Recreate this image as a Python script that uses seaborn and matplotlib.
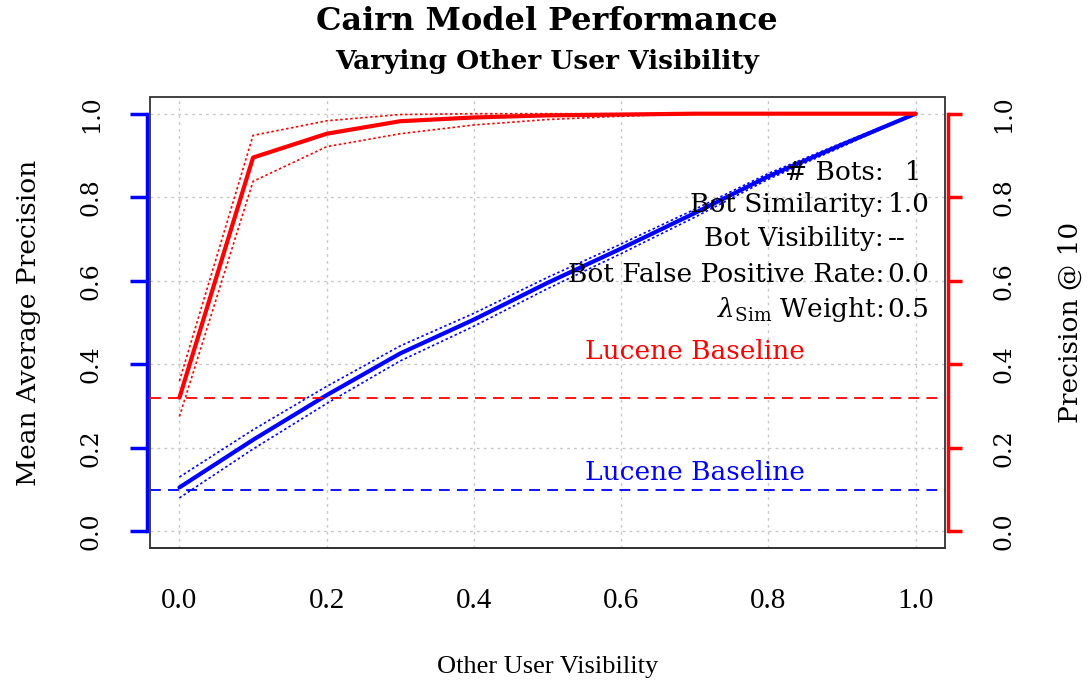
import matplotlib
matplotlib.use("Agg")
import matplotlib.pyplot as plt
import seaborn as sns
import pandas as pd
from matplotlib.patches import Rectangle

# other user visibility
vis = [0.0, 0.1, 0.2, 0.3, 0.4, 0.5, 0.6, 0.7, 0.8, 0.9, 1.0]

# mean average precision (left axis, blue)
map_mean = [0.105, 0.219, 0.326, 0.426, 0.507, 0.595, 0.677, 0.762, 0.850, 0.926, 1.0]
map_hi = [0.130, 0.243, 0.347, 0.444, 0.522, 0.608, 0.688, 0.771, 0.857, 0.930, 1.0]
map_lo = [0.080, 0.197, 0.306, 0.408, 0.491, 0.581, 0.665, 0.752, 0.843, 0.921, 1.0]

# precision @ 10 (right axis, red)
p10_mean = [0.320, 0.895, 0.952, 0.982, 0.991, 0.996, 0.998, 1.0, 1.0, 1.0, 1.0]
p10_hi = [0.360, 0.948, 0.983, 0.998, 1.0, 1.0, 1.0, 1.0, 1.0, 1.0, 1.0]
p10_lo = [0.275, 0.838, 0.921, 0.952, 0.973, 0.986, 0.994, 1.0, 1.0, 1.0, 1.0]

lucene_map = 0.10
lucene_p10 = 0.32

params = [("# Bots:", "  1"),
          ("Bot Similarity:", "1.0"),
          ("Bot Visibility:", "--"),
          ("Bot False Positive Rate:", "0.0"),
          (r"$\lambda_{\mathrm{Sim}}$ Weight:", "0.5")]
param_y = [0.86, 0.783, 0.70, 0.614, 0.531]

ticks = [0.0, 0.2, 0.4, 0.6, 0.8, 1.0]
tick_labels = ["0.0", "0.2", "0.4", "0.6", "0.8", "1.0"]

sns.set_style("white")
plt.rcParams['font.family'] = ['DejaVu Serif']
plt.rcParams['mathtext.fontset'] = 'dejavuserif'
plt.rcParams['text.color'] = 'black'
plt.rcParams['axes.labelcolor'] = 'black'
plt.rcParams['xtick.labelcolor'] = 'black'
plt.rcParams['ytick.labelcolor'] = 'black'
narrow = ['Liberation Serif']

df = pd.DataFrame({'vis': vis, 'map': map_mean, 'map_hi': map_hi, 'map_lo': map_lo,
                   'p10': p10_mean, 'p10_hi': p10_hi, 'p10_lo': p10_lo})

fig = plt.figure(figsize=(10.9, 6.89), dpi=100)
ax = fig.add_axes([150 / 1090, 141 / 689, 795 / 1090, 451 / 689])
ax2 = ax.twinx()

lim = (-0.04, 1.04)
for a in (ax, ax2):
    a.set_xlim(lim)
    a.set_ylim(lim)

# grid
for t in ticks:
    ax.axvline(t, color='#c8c8c8', lw=1, ls=(0, (2, 3)), zorder=0)
    ax.axhline(t, color='#c8c8c8', lw=1, ls=(0, (2, 3)), zorder=0)

# blue: MAP
sns.lineplot(data=df, x='vis', y='map', ax=ax, color='blue', lw=3)
sns.lineplot(data=df, x='vis', y='map_hi', ax=ax, color='blue', lw=1.2, ls=(0, (1.5, 1.5)))
sns.lineplot(data=df, x='vis', y='map_lo', ax=ax, color='blue', lw=1.2, ls=(0, (1.5, 1.5)))
ax.axhline(lucene_map, color='blue', lw=1.3, ls=(0, (6, 4)))

# red: P@10
sns.lineplot(data=df, x='vis', y='p10', ax=ax2, color='red', lw=3)
sns.lineplot(data=df, x='vis', y='p10_hi', ax=ax2, color='red', lw=1.2, ls=(0, (1.5, 1.5)))
sns.lineplot(data=df, x='vis', y='p10_lo', ax=ax2, color='red', lw=1.2, ls=(0, (1.5, 1.5)))
ax2.axhline(lucene_p10, color='red', lw=1.3, ls=(0, (6, 4)))

ax.text(0.70, lucene_p10 + 0.11, "Lucene Baseline", color='red', fontsize=19,
        ha='center', va='center')
ax.text(0.70, lucene_map + 0.04, "Lucene Baseline", color='blue', fontsize=19,
        ha='center', va='center')

for (lab, val), y in zip(params, param_y):
    ax.text(0.957, y, lab, fontsize=19, ha='right', va='center')
    ax.text(0.962, y, val, fontsize=19, ha='left', va='center')

# frame
ax.add_patch(Rectangle((0, 0), 1, 1, transform=ax.transAxes, fill=False,
                       ec='#333333', lw=1.3, clip_on=False, zorder=5))
for s in ('top', 'right'):
    ax.spines[s].set_visible(False)
for s in ('top', 'left', 'bottom'):
    ax2.spines[s].set_visible(False)
ax.spines['bottom'].set_color('#333333')
ax.spines['bottom'].set_linewidth(1.3)

ax.spines['left'].set_position(('outward', 2))
ax.spines['left'].set_bounds(0, 1)
ax.spines['left'].set_color('blue')
ax.spines['left'].set_linewidth(2.5)
ax2.spines['right'].set_visible(True)
ax2.spines['right'].set_position(('outward', 2))
ax2.spines['right'].set_bounds(0, 1)
ax2.spines['right'].set_color('red')
ax2.spines['right'].set_linewidth(2.5)

ax.set_xticks(ticks)
ax.set_xticklabels(tick_labels, family=narrow, fontsize=21)
ax.tick_params(axis='x', length=14, width=1.3, color='#333333', pad=15)
ax.set_yticks(ticks)
ax.set_yticklabels(tick_labels, rotation=90, va='center', fontsize=17)
ax.tick_params(axis='y', length=12, width=2.5, color='blue', pad=20, left=True)
ax2.set_yticks(ticks)
ax2.set_yticklabels(tick_labels, rotation=90, va='center', fontsize=17)
ax2.tick_params(axis='y', length=10, width=2.5, color='red', pad=22, right=True)

ax.set_xlabel("Other User Visibility", family=narrow, fontsize=19, labelpad=30)
ax.set_ylabel("Mean Average Precision", fontsize=19, labelpad=28)
ax2.set_ylabel("Precision @ 10", fontsize=19, rotation=90, labelpad=31)

fig.text(547 / 1090, 1 - 22 / 689, "Cairn Model Performance", fontsize=23,
         fontweight='bold', ha='center', va='center')
fig.text(547 / 1090, 1 - 62 / 689, "Varying Other User Visibility", fontsize=19,
         fontweight='bold', ha='center', va='center')

fig.savefig("out.png", dpi=100)
